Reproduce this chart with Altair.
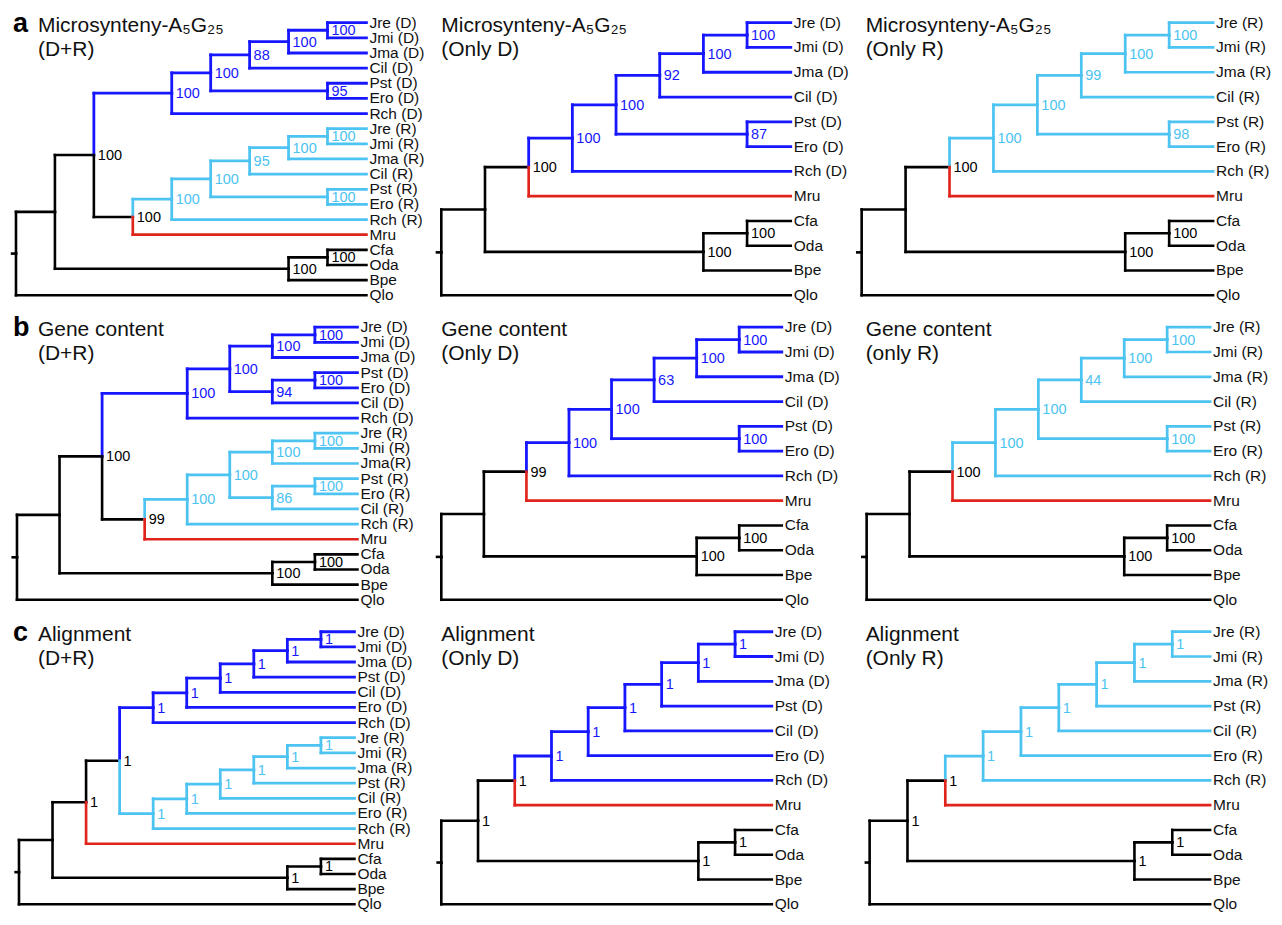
import altair as alt
import pandas as pd

# ---------------- data: trees in Newick form (support values as node labels) ----------------
A1 = "(((((((('Jre (D)','Jmi (D)')100,'Jma (D)')100,'Cil (D)')88,('Pst (D)','Ero (D)')95)100,'Rch (D)')100,(((((('Jre (R)','Jmi (R)')100,'Jma (R)')100,'Cil (R)')95,('Pst (R)','Ero (R)')100)100,'Rch (R)')100,'Mru')100)100,(('Cfa','Oda')100,'Bpe')100),'Qlo');"
A2 = "(((((((('Jre (D)','Jmi (D)')100,'Jma (D)')100,'Cil (D)')92,('Pst (D)','Ero (D)')87)100,'Rch (D)')100,'Mru')100,(('Cfa','Oda')100,'Bpe')100),'Qlo');"
A3 = "(((((((('Jre (R)','Jmi (R)')100,'Jma (R)')100,'Cil (R)')99,('Pst (R)','Ero (R)')98)100,'Rch (R)')100,'Mru')100,(('Cfa','Oda')100,'Bpe')100),'Qlo');"
B1 = "((((((('Jre (D)','Jmi (D)')100,'Jma (D)')100,(('Pst (D)','Ero (D)')100,'Cil (D)')94)100,'Rch (D)')100,((((('Jre (R)','Jmi (R)')100,'Jma(R)')100,(('Pst (R)','Ero (R)')100,'Cil (R)')86)100,'Rch (R)')100,'Mru')99)100,(('Cfa','Oda')100,'Bpe')100),'Qlo');"
B2 = "(((((((('Jre (D)','Jmi (D)')100,'Jma (D)')100,'Cil (D)')63,('Pst (D)','Ero (D)')100)100,'Rch (D)')100,'Mru')99,(('Cfa','Oda')100,'Bpe')100),'Qlo');"
B3 = "(((((((('Jre (R)','Jmi (R)')100,'Jma (R)')100,'Cil (R)')44,('Pst (R)','Ero (R)')100)100,'Rch (R)')100,'Mru')100,(('Cfa','Oda')100,'Bpe')100),'Qlo');"
C1 = "(((((((((('Jre (D)','Jmi (D)')1,'Jma (D)')1,'Pst (D)')1,'Cil (D)')1,'Ero (D)')1,'Rch (D)')1,(((((('Jre (R)','Jmi (R)')1,'Jma (R)')1,'Pst (R)')1,'Cil (R)')1,'Ero (R)')1,'Rch (R)')1)1,'Mru')1,(('Cfa','Oda')1,'Bpe')1),'Qlo');"
C2 = "((((((((('Jre (D)','Jmi (D)')1,'Jma (D)')1,'Pst (D)')1,'Cil (D)')1,'Ero (D)')1,'Rch (D)')1,'Mru')1,(('Cfa','Oda')1,'Bpe')1)1,'Qlo');"
C3 = "((((((((('Jre (R)','Jmi (R)')1,'Jma (R)')1,'Pst (R)')1,'Cil (R)')1,'Ero (R)')1,'Rch (R)')1,'Mru')1,(('Cfa','Oda')1,'Bpe')1)1,'Qlo');"

PANEL_TREES = [A1, A2, A3, B1, B2, B3, C1, C2, C3]
PANEL_LETTERS = ["a", "", "", "b", "", "", "c", "", ""]
TITLE_LINE1 = ["Microsynteny-A\u2085G\u2082\u2085"] * 3 + ["Gene content"] * 3 + ["Alignment"] * 3
TITLE_LINE2 = ["(D+R)", "(Only D)", "(Only R)",
               "(D+R)", "(Only D)", "(only R)",
               "(D+R)", "(Only D)", "(Only R)"]

CLADES = ["D", "R", "M", "O"]
CLADE_COLORS = ["#1616ff", "#4cc3f1", "#e0241b", "#000000"]
CLADE_WIDTHS = [2.8, 2.6, 2.0, 2.8]

# ---------------- layout (styling) ----------------
FONT = "Liberation Sans"
PANEL_W, PANEL_H = 416, 290
X_RANGES = [(8, 359), (8, 358), (3, 355),
            (9, 350), (8, 349), (8, 352),
            (11, 347), (8, 339), (11, 352)]
Y_RANGE = (14, 287)
TITLE_X = [30, 8, 7]
ROOT_STUB = 0.1


def parse_newick(s):
    s = s.strip().rstrip(";")
    pos = 0

    def read_label():
        nonlocal pos
        if pos < len(s) and s[pos] == "'":
            end = s.index("'", pos + 1)
            lab = s[pos + 1:end]
            pos = end + 1
            return lab
        start = pos
        while pos < len(s) and s[pos] not in ",()":
            pos += 1
        return s[start:pos]

    def node():
        nonlocal pos
        if s[pos] == "(":
            pos += 1
            children = [node()]
            while s[pos] == ",":
                pos += 1
                children.append(node())
            assert s[pos] == ")"
            pos += 1
            return {"children": children, "support": read_label()}
        return {"children": [], "name": read_label()}

    return node()


def tip_clade(name):
    if "(D)" in name:
        return "D"
    if "(R)" in name:
        return "R"
    if name == "Mru":
        return "M"
    return "O"


def layout(tree):
    tips = []

    def height(n):
        n["h"] = 0 if not n["children"] else 1 + max(height(c) for c in n["children"])
        return n["h"]

    H = height(tree)

    def assign(n):
        n["x"] = H - n["h"]
        if not n["children"]:
            n["y"] = len(tips)
            n["cat"] = tip_clade(n["name"])
            tips.append(n)
        else:
            for c in n["children"]:
                assign(c)
            n["y"] = (n["children"][0]["y"] + n["children"][-1]["y"]) / 2
            cats = {c["cat"] for c in n["children"]}
            n["cat"] = cats.pop() if len(cats) == 1 else "O"

    assign(tree)
    edges, tip_rows, sup_rows = [], [], []
    edges.append({"x": -ROOT_STUB, "x2": 0, "y": tree["y"], "y2": tree["y"], "cat": "O"})

    def walk(n):
        if not n["children"]:
            tip_rows.append({"x": n["x"], "y": n["y"], "label": n["name"]})
            return
        if n.get("support"):
            sup_rows.append({"x": n["x"], "y": n["y"], "label": n["support"], "cat": n["cat"]})
        for c in n["children"]:
            edges.append({"x": n["x"], "x2": n["x"], "y": n["y"], "y2": c["y"], "cat": c["cat"]})
            edges.append({"x": n["x"], "x2": c["x"], "y": c["y"], "y2": c["y"], "cat": c["cat"]})
            walk(c)

    walk(tree)
    return H, len(tips), pd.DataFrame(edges), pd.DataFrame(tip_rows), pd.DataFrame(sup_rows)


color_scale = alt.Scale(domain=CLADES, range=CLADE_COLORS)
width_scale = alt.Scale(domain=CLADES, range=CLADE_WIDTHS)

panels = []
for i, newick in enumerate(PANEL_TREES):
    H, n_tips, edf, tdf, sdf = layout(parse_newick(newick))
    xs = alt.Scale(domain=[0, H], range=list(X_RANGES[i]), nice=False, zero=False)
    ys = alt.Scale(domain=[0, n_tips - 1], range=list(Y_RANGE), nice=False, zero=False)

    edges = alt.Chart(edf).mark_rule(strokeCap="square").encode(
        x=alt.X("x:Q", scale=xs, axis=None),
        x2="x2:Q",
        y=alt.Y("y:Q", scale=ys, axis=None),
        y2="y2:Q",
        color=alt.Color("cat:N", scale=color_scale, legend=None),
        strokeWidth=alt.StrokeWidth("cat:N", scale=width_scale, legend=None),
    )
    tips = alt.Chart(tdf).mark_text(
        align="left", baseline="middle", dx=3, fontSize=15.5, font=FONT, color="#111111"
    ).encode(
        x=alt.X("x:Q", scale=xs, axis=None),
        y=alt.Y("y:Q", scale=ys, axis=None),
        text="label:N",
    )
    sups = alt.Chart(sdf).mark_text(
        align="left", baseline="middle", dx=4, dy=1, fontSize=14.5, font=FONT
    ).encode(
        x=alt.X("x:Q", scale=xs, axis=None),
        y=alt.Y("y:Q", scale=ys, axis=None),
        text="label:N",
        color=alt.Color("cat:N", scale=color_scale, legend=None),
    )
    tx = TITLE_X[i % 3]
    t1 = alt.Chart(pd.DataFrame({"t": [TITLE_LINE1[i]]})).mark_text(
        align="left", baseline="alphabetic", fontSize=21, font=FONT, color="#111111"
    ).encode(x=alt.value(tx), y=alt.value(23), text="t:N")
    t2 = alt.Chart(pd.DataFrame({"t": [TITLE_LINE2[i]]})).mark_text(
        align="left", baseline="alphabetic", fontSize=21, font=FONT, color="#111111"
    ).encode(x=alt.value(tx), y=alt.value(47), text="t:N")
    layers = [edges, sups, tips, t1, t2]
    if PANEL_LETTERS[i]:
        lt = alt.Chart(pd.DataFrame({"t": [PANEL_LETTERS[i]]})).mark_text(
            align="left", baseline="alphabetic", fontSize=27, fontWeight="bold",
            font=FONT, color="#000000"
        ).encode(x=alt.value(5), y=alt.value(23), text="t:N")
        layers.append(lt)
    panels.append(alt.layer(*layers).properties(width=PANEL_W, height=PANEL_H))

chart = alt.concat(
    *panels, columns=3, spacing={"row": 15, "column": 10}, bounds="flush", padding=0
).configure_view(stroke=None)

chart.save("out.html", embed_options={"renderer": "svg", "actions": False})
